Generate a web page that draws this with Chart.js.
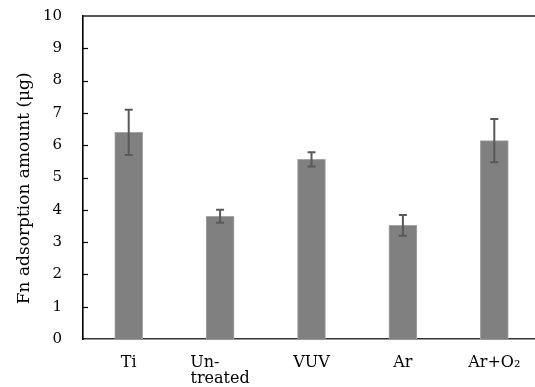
<!DOCTYPE html>
<html>
<head>
<meta charset="utf-8">
<script src="https://cdn.jsdelivr.net/npm/chart.js@4.4.0/dist/chart.umd.min.js"></script>
<style>
  html, body { margin: 0; padding: 0; background: #ffffff; overflow: hidden; }
  #wrap { width: 540px; height: 387px; position: relative; }
</style>
</head>
<body>
<div id="wrap"><canvas id="c"></canvas></div>
<script>
const categories = [["Ti"], ["Un-      ", "treated"], ["VUV"], ["Ar"], ["Ar+O\u2082"]];
const values = [6.4, 3.8, 5.56, 3.52, 6.14];
const errors = [0.7, 0.2, 0.22, 0.32, 0.67];
const yTicks = [0, 1, 2, 3, 4, 5, 6, 7, 8, 9, 10];

const FONT = "'DejaVu Serif', 'Liberation Serif', serif";

const extras = {
  id: 'extras',
  afterDatasetsDraw(chart) {
    const ctx = chart.ctx;
    const x = chart.scales.x, y = chart.scales.y;
    const area = chart.chartArea;
    ctx.save();
    ctx.strokeStyle = '#595959';
    ctx.lineWidth = 2;
    values.forEach((v, i) => {
      const px = x.getPixelForValue(i);
      const top = y.getPixelForValue(v + errors[i]);
      const bot = y.getPixelForValue(v - errors[i]);
      ctx.beginPath();
      ctx.moveTo(px, top); ctx.lineTo(px, bot);
      ctx.moveTo(px - 4, top); ctx.lineTo(px + 4, top);
      ctx.moveTo(px - 4, bot); ctx.lineTo(px + 4, bot);
      ctx.stroke();
    });
    ctx.strokeStyle = '#000000';
    ctx.lineWidth = 1.2;
    yTicks.forEach(t => {
      if (t === 0 || t === 10) return;
      const py = Math.round(y.getPixelForValue(t)) + 0.5;
      ctx.beginPath();
      ctx.moveTo(area.left, py); ctx.lineTo(area.left + 5, py);
      ctx.stroke();
    });
    ctx.strokeStyle = '#222222';
    ctx.lineWidth = 1.6;
    ctx.beginPath();
    ctx.moveTo(area.left - 0.5, area.top); ctx.lineTo(area.right, area.top);
    ctx.stroke();
    ctx.restore();
  }
};

new Chart(document.getElementById('c'), {
  type: 'bar',
  data: {
    labels: categories,
    datasets: [{
      data: values,
      backgroundColor: '#808080',
      borderColor: '#a5a5a5',
      borderWidth: 1,
      barThickness: 28
    }]
  },
  options: {
    responsive: true,
    maintainAspectRatio: false,
    animation: false,
    layout: { autoPadding: false, padding: { top: 16, right: 0, left: 0, bottom: 0 } },
    plugins: { legend: { display: false }, tooltip: { enabled: false } },
    scales: {
      x: {
        grid: { display: false, drawTicks: false },
        border: { display: true, color: '#333333', width: 1.6 },
        ticks: {
          color: '#000000',
          font: { family: FONT, size: 16, lineHeight: 1.0 },
          padding: 16,
          maxRotation: 0,
          autoSkip: false
        },
        afterFit(s) { s.height = 48; s.paddingLeft = 0; s.paddingRight = 0; }
      },
      y: {
        min: 0, max: 10,
        grid: { display: false, drawTicks: false },
        border: { display: true, color: '#000000', width: 1.6 },
        afterBuildTicks(s) { s.ticks = yTicks.map(v => ({ value: v })); },
        ticks: {
          color: '#000000',
          font: { family: FONT, size: 15 },
          padding: 21
        },
        title: {
          display: true,
          text: 'Fn adsorption amount (\u03bcg)    ',
          color: '#000000',
          font: { family: FONT, size: 17 },
          padding: { top: 14, bottom: 0 }
        },
        afterFit(s) { s.width = 83; s.paddingTop = 0; s.paddingBottom = 0; }
      }
    }
  },
  plugins: [extras]
});
</script>
</body>
</html>
